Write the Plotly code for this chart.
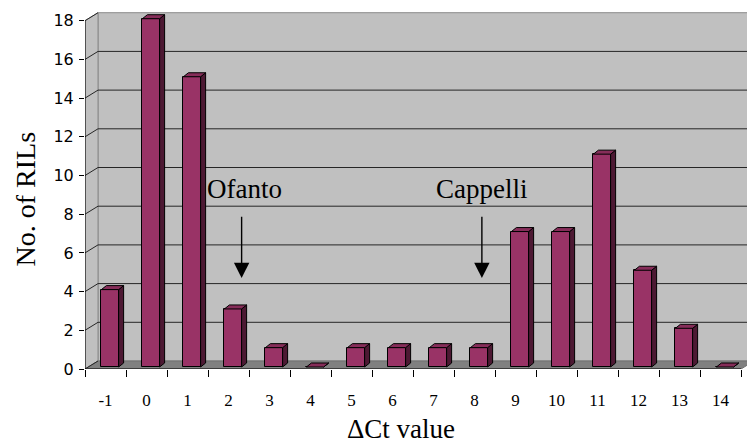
import plotly.graph_objects as go

# Distribution of RILs by ΔCt value
categories = ["-1", "0", "1", "2", "3", "4", "5", "6", "7", "8", "9", "10", "11", "12", "13", "14"]
counts = [4, 18, 15, 3, 1, 0, 1, 1, 1, 1, 7, 7, 11, 5, 2, 0]
y_ticks = [0, 2, 4, 6, 8, 10, 12, 14, 16, 18]

# Pseudo-3D geometry, in axis units (one category = 1 x unit)
W_PX, H_PX = 747, 446
ML, MR, MT, MB = 85, 0, 12, 77
UNIT_PX = 41.0
X_MAX = (W_PX - ML - MR) / UNIT_PX
Y_MAX = 18.45
PX_PER_Y = (H_PX - MT - MB) / Y_MAX

WALL_DX = 13 / UNIT_PX        # depth offset of the back wall
WALL_DY = 8 / PX_PER_Y
BAR_DX = 5 / UNIT_PX          # depth of each bar
BAR_DY = 4 / PX_PER_Y
BAR_BASE = 2 / PX_PER_Y
BAR_OFF = 0.40
BAR_W = 0.42

N = len(categories)
FRONT = "#993366"
TOP = "#862d59"
SIDE = "#4d1933"
WALL = "#c0c0c0"
FLOOR = "#808080"
GRID = "#262626"

fig = go.Figure()

# Walls and floor
shapes = []
shapes.append(dict(type="path", xref="x", yref="y", layer="below",
                   path=f"M {WALL_DX},{WALL_DY} L {N + WALL_DX + 1},{WALL_DY} L {N + WALL_DX + 1},{18 + WALL_DY} L {WALL_DX},{18 + WALL_DY} Z",
                   fillcolor=WALL, line=dict(color="#8a8a8a", width=1)))
shapes.append(dict(type="path", xref="x", yref="y", layer="below",
                   path=f"M 0,0 L {WALL_DX},{WALL_DY} L {WALL_DX},{18 + WALL_DY} L 0,18 Z",
                   fillcolor=WALL, line=dict(color="#8a8a8a", width=1)))
shapes.append(dict(type="path", xref="x", yref="y", layer="below",
                   path=f"M 0,0 L {N},0 L {N + WALL_DX},{WALL_DY} L {WALL_DX},{WALL_DY} Z",
                   fillcolor=FLOOR, line=dict(color="#707070", width=1)))
# Gridlines on the back wall and the side wall
for v in y_ticks[1:-1]:
    shapes.append(dict(type="line", xref="x", yref="y", layer="below",
                       x0=WALL_DX, x1=N + WALL_DX + 1, y0=v + WALL_DY, y1=v + WALL_DY,
                       line=dict(color=GRID, width=1)))
for v in y_ticks:
    shapes.append(dict(type="line", xref="x", yref="y", layer="below",
                       x0=0, x1=WALL_DX, y0=v, y1=v + WALL_DY,
                       line=dict(color=GRID, width=1)))
# Front axis lines
shapes.append(dict(type="line", xref="x", yref="y", x0=0, x1=0, y0=0, y1=18,
                   line=dict(color="black", width=1)))
shapes.append(dict(type="line", xref="x", yref="y", x0=0, x1=N, y0=0, y1=0,
                   line=dict(color="black", width=1)))

# Bar fronts
xs = [i + BAR_OFF + BAR_W / 2 for i in range(N)]
fig.add_trace(go.Bar(x=xs, y=counts, base=BAR_BASE, width=BAR_W,
                     marker=dict(color=FRONT, line=dict(color="black", width=1)),
                     showlegend=False, hoverinfo="skip"))

# Bar sides and tops
side_x, side_y, top_x, top_y = [], [], [], []
for i, v in enumerate(counts):
    x0 = i + BAR_OFF
    x1 = x0 + BAR_W
    t = BAR_BASE + v
    side_x += [x1, x1, x1 + BAR_DX, x1 + BAR_DX, x1, None]
    side_y += [BAR_BASE, t, t + BAR_DY, BAR_BASE + BAR_DY, BAR_BASE, None]
    top_x += [x0, x1, x1 + BAR_DX, x0 + BAR_DX, x0, None]
    top_y += [t, t, t + BAR_DY, t + BAR_DY, t, None]
fig.add_trace(go.Scatter(x=side_x, y=side_y, mode="lines", fill="toself", fillcolor=SIDE,
                         line=dict(color="black", width=1), showlegend=False, hoverinfo="skip"))
fig.add_trace(go.Scatter(x=top_x, y=top_y, mode="lines", fill="toself", fillcolor=TOP,
                         line=dict(color="black", width=1), showlegend=False, hoverinfo="skip"))

# Category labels on an overlaid axis so ticks can sit between categories
fig.add_trace(go.Scatter(x=[i + 0.5 for i in range(N)], y=[None] * N, xaxis="x2",
                         showlegend=False, hoverinfo="skip"))

serif = "Liberation Serif"
annotations = [
    dict(text="ΔCt value", xref="paper", yref="paper", x=(401 - ML) / (W_PX - ML - MR),
         y=-(H_PX - (H_PX - MB)) / (H_PX - MT - MB), xanchor="center", yanchor="bottom",
         showarrow=False, font=dict(family=serif, size=27, color="black")),
    dict(text="No. of RILs", xref="paper", yref="paper", x=(25 - ML) / (W_PX - ML - MR),
         y=((H_PX - MB) - 199.5) / (H_PX - MT - MB), xanchor="center", yanchor="middle",
         textangle=-90, showarrow=False, font=dict(family=serif, size=28, color="black")),
    dict(text="Ofanto", x=3.90, y=9.30, xref="x", yref="y", showarrow=False,
         font=dict(family=serif, size=27, color="black")),
    dict(text="Cappelli", x=9.66, y=9.30, xref="x", yref="y", showarrow=False,
         font=dict(family=serif, size=27, color="black")),
    dict(text="", x=3.82, y=4.70, ax=3.82, ay=7.95, xref="x", yref="y", axref="x", ayref="y",
         showarrow=True, arrowhead=2, arrowsize=2.2, arrowwidth=1.4, arrowcolor="black"),
    dict(text="", x=9.68, y=4.70, ax=9.68, ay=7.95, xref="x", yref="y", axref="x", ayref="y",
         showarrow=True, arrowhead=2, arrowsize=2.2, arrowwidth=1.4, arrowcolor="black"),
]

fig.update_layout(
    width=W_PX, height=H_PX,
    margin=dict(l=ML, r=MR, t=MT, b=MB),
    paper_bgcolor="white", plot_bgcolor="white",
    shapes=shapes, annotations=annotations, bargap=0,
    xaxis=dict(range=[0, X_MAX], tickvals=list(range(N + 1)), ticktext=[""] * (N + 1),
               ticks="outside", ticklen=7, tickcolor="black", tickwidth=1,
               showgrid=False, zeroline=False, showline=False, fixedrange=True),
    xaxis2=dict(range=[0, X_MAX], overlaying="x", side="bottom", anchor="y",
                tickvals=[i + 0.5 for i in range(N)], ticktext=categories,
                ticks="", showgrid=False, zeroline=False, showline=False,
                ticklabelstandoff=19, tickfont=dict(family=serif, size=17, color="black")),
    yaxis=dict(range=[0, Y_MAX], tickvals=y_ticks, ticks="outside", ticklen=5,
               tickcolor="black", tickwidth=1, showgrid=False, zeroline=False, showline=False,
               ticklabelstandoff=2, tickfont=dict(family="DejaVu Sans", size=16, color="black")),
)

fig.write_html("out.html")
